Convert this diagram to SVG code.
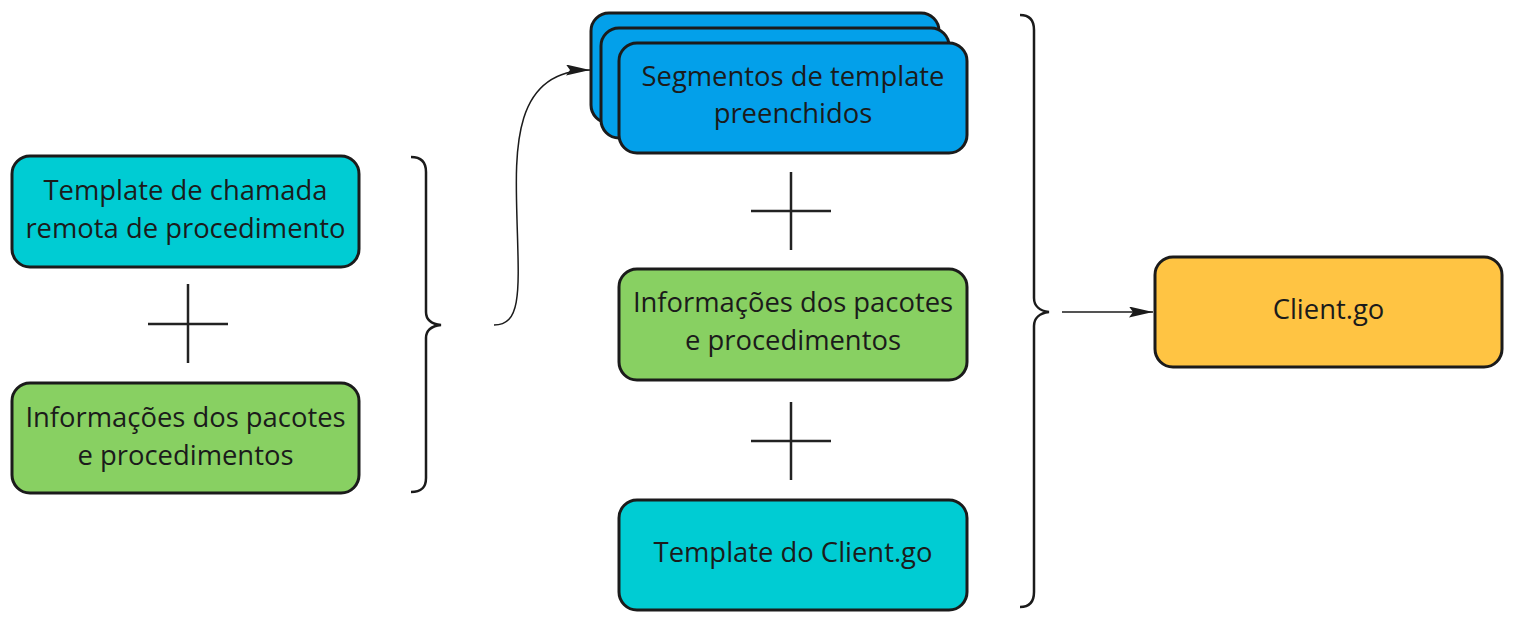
<svg xmlns="http://www.w3.org/2000/svg" width="1523" height="635" viewBox="0 0 1523 635">
<style>
.box{stroke:#1b1b1b;stroke-width:3}
.cyan{fill:#00CCD3}
.green{fill:#88D062}
.blue{fill:#03A0EA}
.yellow{fill:#FFC443}
.t{font-family:"Open Sans","Noto Sans",sans-serif;font-size:27.4px;fill:#1b1b1b;text-anchor:middle}
.plus{stroke:#222;stroke-width:2.5;fill:none}
.brace{stroke:#1b1b1b;stroke-width:2.5;fill:none}
.conn{stroke:#1b1b1b;stroke-width:1.5;fill:none}
</style>
<defs>
<marker id="arr" viewBox="0 0 24 11" refX="24" refY="5.5" markerWidth="24" markerHeight="11" markerUnits="userSpaceOnUse" orient="auto">
<path d="M0,0 L24,5.5 L0,11 L4,5.5 Z" fill="#1b1b1b"/>
</marker>
</defs>
<rect width="1523" height="635" fill="#ffffff"/>

<g id="n-template-chamada">
<rect class="box cyan" x="12" y="156" width="347" height="111" rx="18"/>
<text class="t" x="185.5" y="200">Template de chamada</text>
<text class="t" x="185.5" y="238">remota de procedimento</text>
</g>
<g id="plus-left">
<line class="plus" x1="188" y1="284" x2="188" y2="363"/>
<line class="plus" x1="148" y1="324" x2="228" y2="324"/>
</g>
<g id="n-info-left">
<rect class="box green" x="12" y="383" width="347" height="110" rx="18"/>
<text class="t" x="185.5" y="427">Informações dos pacotes</text>
<text class="t" x="185.5" y="465">e procedimentos</text>
</g>
<g id="brace-left">
<path class="brace" d="M411,157 C421,157 426,162 426,172 L426,312 C426,320 432,324 441,325 C432,326 426,330 426,338 L426,478 C426,488 421,492 411,492"/>
</g>

<g id="n-segmentos">
<rect class="box blue" x="591" y="13" width="348" height="110" rx="18"/>
<rect class="box blue" x="601" y="28" width="348" height="110" rx="18"/>
<rect class="box blue" x="619" y="43" width="348" height="110" rx="18"/>
<text class="t" x="793" y="86">Segmentos de template</text>
<text class="t" x="793" y="123">preenchidos</text>
</g>
<g id="plus-mid1">
<line class="plus" x1="791" y1="172" x2="791" y2="250"/>
<line class="plus" x1="751" y1="211" x2="831" y2="211"/>
</g>
<g id="n-info-mid">
<rect class="box green" x="619" y="269" width="348" height="111" rx="18"/>
<text class="t" x="793" y="312">Informações dos pacotes</text>
<text class="t" x="793" y="350">e procedimentos</text>
</g>
<g id="plus-mid2">
<line class="plus" x1="791" y1="402" x2="791" y2="480"/>
<line class="plus" x1="751" y1="441" x2="831" y2="441"/>
</g>
<g id="n-template-client">
<rect class="box cyan" x="619" y="500" width="348" height="110" rx="18"/>
<text class="t" x="793" y="562">Template do Client.go</text>
</g>
<g id="brace-right">
<path class="brace" d="M1020,15 C1029,15 1034,20 1034,30 L1034,298 C1034,306 1040,311 1049,312 C1040,313 1034,318 1034,326 L1034,592 C1034,602 1029,607 1020,607"/>
</g>
<g id="n-client">
<rect class="box yellow" x="1155" y="257" width="347" height="110" rx="18"/>
<text class="t" x="1328.5" y="319">Client.go</text>
</g>

<g id="connectors">
<path class="conn" d="M494,325 C522,325 519,290 517,220 C515,150 512,70 590,70" marker-end="url(#arr)"/>
<line class="conn" x1="1062" y1="312" x2="1153" y2="312" marker-end="url(#arr)"/>
</g>
</svg>
